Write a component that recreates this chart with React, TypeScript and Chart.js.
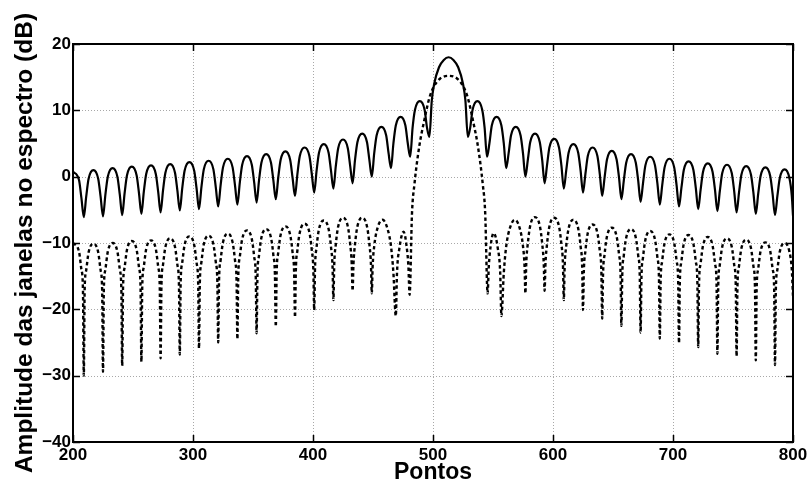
import React, { useEffect, useRef } from "react";
import { Chart, registerables } from "chart.js";

Chart.register(...registerables);

// Tick values of both axes
const xTicks = [200, 300, 400, 500, 600, 700, 800];
const yTicks = [-40, -30, -20, -10, 0, 10, 20];

// Rectangular window spectrum (dB) – side lobes left of the main lobe
const solidLeft: [number, number][] = [
  [200, 0.75], [205, -0.5], [207, -3.2], [209, -6.1],
  [211, -3.0], [213, -0.3], [217, 1.0], [221, -0.3], [223, -3.0], [225, -6.0],
  [227, -2.7], [229, 0.0], [233, 1.3], [237, 0.0], [239, -2.7], [241, -5.8],
  [243, -2.5], [245, 0.2], [249, 1.5], [253, 0.2], [255, -2.5], [257, -5.6],
  [259, -2.3], [261, 0.4], [265, 1.7], [269, 0.4], [271, -2.3], [273, -5.4],
  [275, -2.1], [277, 0.6], [281, 1.9], [285, 0.6], [287, -2.1], [289, -5.1],
  [291, -1.8], [293, 0.9], [297, 2.2], [301, 0.9], [303, -1.8], [305, -4.9],
  [307, -1.6], [309, 1.1], [313, 2.4], [317, 1.1], [319, -1.6], [321, -4.5],
  [323, -1.3], [325, 1.4], [329, 2.7], [333, 1.4], [335, -1.3], [337, -4.2],
  [339, -0.9], [341, 1.8], [345, 3.1], [349, 1.8], [351, -0.9], [353, -3.9],
  [355, -0.6], [357, 2.1], [361, 3.4], [365, 2.1], [367, -0.6], [369, -3.4],
  [371, -0.2], [373, 2.5], [377, 3.8], [381, 2.5], [383, -0.2], [385, -2.9],
  [387, 0.4], [389, 3.1], [393, 4.4], [397, 3.1], [399, 0.4], [401, -2.4],
  [403, 0.9], [405, 3.6], [409, 4.9], [413, 3.6], [415, 0.9], [417, -1.8],
  [419, 1.6], [421, 4.3], [425, 5.6], [429, 4.3], [431, 1.6], [433, -1.0],
  [435, 2.5], [437, 5.2], [441, 6.5], [445, 5.2], [447, 2.5], [449, 0.0],
  [451, 3.5], [453, 6.2], [457, 7.5], [461, 6.2], [463, 3.5], [465, 1.3],
  [467, 5.0], [469, 7.7], [473, 9.0], [477, 7.7], [479, 5.0], [481, 3.0],
  [483, 7.4], [485, 10.1], [489, 11.4], [493, 10.1], [495, 7.4], [497, 6.0],
];

// Rectangular window – main lobe
const solidMain: [number, number][] = [
  [499, 11.5], [501, 14.0], [505, 16.5], [509, 17.6], [513, 18.0],
  [517, 17.6], [521, 16.5], [525, 14.0], [527, 11.5], [529, 6.0],
];

// Rectangular window – side lobes right of the main lobe
const solidRight: [number, number][] = [
  [531, 7.4], [533, 10.1], [537, 11.4], [541, 10.1], [543, 7.4], [545, 3.0],
  [547, 5.0], [549, 7.7], [553, 9.0], [557, 7.7], [559, 5.0], [561, 1.3],
  [563, 3.5], [565, 6.2], [569, 7.5], [573, 6.2], [575, 3.5], [577, 0.0],
  [579, 2.5], [581, 5.2], [585, 6.5], [589, 5.2], [591, 2.5], [593, -1.0],
  [595, 1.7], [597, 4.4], [601, 5.7], [605, 4.4], [607, 1.7], [609, -1.8],
  [611, 0.9], [613, 3.6], [617, 4.9], [621, 3.6], [623, 0.9], [625, -2.4],
  [627, 0.4], [629, 3.1], [633, 4.4], [637, 3.1], [639, 0.4], [641, -2.9],
  [643, -0.1], [645, 2.6], [649, 3.9], [653, 2.6], [655, -0.1], [657, -3.4],
  [659, -0.6], [661, 2.1], [665, 3.4], [669, 2.1], [671, -0.6], [673, -3.8],
  [675, -1.0], [677, 1.7], [681, 3.0], [685, 1.7], [687, -1.0], [689, -4.2],
  [691, -1.3], [693, 1.4], [697, 2.7], [701, 1.4], [703, -1.3], [705, -4.5],
  [707, -1.7], [709, 1.0], [713, 2.3], [717, 1.0], [719, -1.7], [721, -4.9],
  [723, -2.0], [725, 0.7], [729, 2.0], [733, 0.7], [735, -2.0], [737, -5.2],
  [739, -2.2], [741, 0.5], [745, 1.8], [749, 0.5], [751, -2.2], [753, -5.4],
  [755, -2.4], [757, 0.3], [761, 1.6], [765, 0.3], [767, -2.4], [769, -5.6],
  [771, -2.6], [773, 0.1], [777, 1.4], [781, 0.1], [783, -2.6], [785, -5.8],
  [787, -2.9], [789, -0.2], [793, 1.1], [797, -0.2], [799, -2.9], [800, -5.9],
];

// Tapered window spectrum (dB) – side lobes left of the main lobe
const dottedLeft: [number, number][] = [
  [200, -10.0], [205, -11.3], [207, -14.0], [208.3, -17.0], [209, -30.0],
  [209.7, -17.1], [211, -14.1], [213, -11.4], [217, -10.1], [221, -11.4], [223, -14.1], [224.3, -17.1], [225, -29.4],
  [225.7, -17.0], [227, -14.0], [229, -11.3], [233, -10.0], [237, -11.3], [239, -14.0], [240.3, -17.0], [241, -28.5],
  [241.7, -16.7], [243, -13.7], [245, -11.0], [249, -9.7], [253, -11.0], [255, -13.7], [256.3, -16.7], [257, -27.9],
  [257.7, -16.6], [259, -13.6], [261, -10.9], [265, -9.6], [269, -10.9], [271, -13.6], [272.3, -16.6], [273, -27.4],
  [273.7, -16.3], [275, -13.3], [277, -10.6], [281, -9.3], [285, -10.6], [287, -13.3], [288.3, -16.3], [289, -26.8],
  [289.7, -16.0], [291, -13.0], [293, -10.3], [297, -9.0], [301, -10.3], [303, -13.0], [304.3, -16.0], [305, -25.9],
  [305.7, -15.9], [307, -12.9], [309, -10.2], [313, -8.9], [317, -10.2], [319, -12.9], [320.3, -15.9], [321, -25.0],
  [321.7, -15.6], [323, -12.6], [325, -9.9], [329, -8.6], [333, -9.9], [335, -12.6], [336.3, -15.6], [337, -24.5],
  [337.7, -15.1], [339, -12.1], [341, -9.4], [345, -8.1], [349, -9.4], [351, -12.1], [352.3, -15.1], [353, -23.6],
  [353.7, -14.9], [355, -11.9], [357, -9.2], [361, -7.9], [365, -9.2], [367, -11.9], [368.3, -14.9], [369, -22.6],
  [369.7, -14.5], [371, -11.5], [373, -8.8], [377, -7.5], [381, -8.8], [383, -11.5], [384.3, -14.5], [385, -21.2],
  [385.7, -14.1], [387, -11.1], [389, -8.4], [393, -7.1], [397, -8.4], [399, -11.1], [400.3, -14.1], [401, -20.1],
  [401.7, -13.6], [403, -10.6], [405, -7.9], [409, -6.6], [413, -7.9], [415, -10.6], [416.3, -13.6], [417, -18.6],
  [417.7, -13.2], [419, -10.2], [421, -7.5], [425, -6.2], [429, -7.5], [431, -10.2], [432.3, -13.2], [433, -17.2],
  [433.7, -13.2], [435, -10.2], [437, -7.5], [441, -6.2], [445, -7.5], [447, -10.2], [448.3, -13.2], [449, -17.6],
  [449.7, -13.5], [451, -10.5], [454, -7.6], [458, -6.5], [462, -7.8], [465, -10.5], [467, -14.5], [469, -21.0],
  [470, -14.5], [472, -10.8], [475.5, -8.3], [478, -10.5], [479.5, -13.5], [480.5, -17.8],
];

// Tapered window – main lobe
const dottedMain: [number, number][] = [
  [482.5, -5.5], [484.5, -1.2], [488.5, 4.5], [492.5, 8.3], [497, 11.9], [500.5, 13.5],
  [506, 14.8], [513, 15.2], [520, 14.8], [525.5, 13.5], [529, 11.9], [533.5, 8.3],
  [537.5, 4.5], [541.5, -1.2], [543.5, -5.5], [545.5, -17.6],
];

// Tapered window – side lobes right of the main lobe
const dottedRight: [number, number][] = [
  [546.5, -13.5], [548, -10.5], [550.5, -8.5], [554, -10.8], [556, -14.5], [557, -21.0],
  [559, -14.5], [561, -10.5], [564, -7.8], [568, -6.5], [572, -7.6], [575, -10.5], [576.3, -13.5], [577, -17.6],
  [577.7, -13.1], [579, -10.1], [581, -7.4], [585, -6.1], [589, -7.4], [591, -10.1], [592.3, -13.1], [593, -17.2],
  [593.7, -13.2], [595, -10.2], [597, -7.5], [601, -6.2], [605, -7.5], [607, -10.2], [608.3, -13.2], [609, -18.6],
  [609.7, -13.5], [611, -10.5], [613, -7.8], [617, -6.5], [621, -7.8], [623, -10.5], [624.3, -13.5], [625, -20.1],
  [625.7, -14.2], [627, -11.2], [629, -8.5], [633, -7.2], [637, -8.5], [639, -11.2], [640.3, -14.2], [641, -21.4],
  [641.7, -14.7], [643, -11.7], [645, -9.0], [649, -7.7], [653, -9.0], [655, -11.7], [656.3, -14.7], [657, -22.5],
  [657.7, -14.9], [659, -11.9], [661, -9.2], [665, -7.9], [669, -9.2], [671, -11.9], [672.3, -14.9], [673, -23.5],
  [673.7, -15.2], [675, -12.2], [677, -9.5], [681, -8.2], [685, -9.5], [687, -12.2], [688.3, -15.2], [689, -24.4],
  [689.7, -15.7], [691, -12.7], [693, -10.0], [697, -8.7], [701, -10.0], [703, -12.7], [704.3, -15.7], [705, -25.1],
  [705.7, -15.8], [707, -12.8], [709, -10.1], [713, -8.8], [717, -10.1], [719, -12.8], [720.3, -15.8], [721, -25.7],
  [721.7, -16.1], [723, -13.1], [725, -10.4], [729, -9.1], [733, -10.4], [735, -13.1], [736.3, -16.1], [737, -26.7],
  [737.7, -16.3], [739, -13.3], [741, -10.6], [745, -9.3], [749, -10.6], [751, -13.3], [752.3, -16.3], [753, -27.1],
  [753.7, -16.5], [755, -13.5], [757, -10.8], [761, -9.5], [765, -10.8], [767, -13.5], [768.3, -16.5], [769, -27.7],
  [769.7, -16.9], [771, -13.9], [773, -11.2], [777, -9.9], [781, -11.2], [783, -13.9], [784.3, -16.9], [785, -28.4],
  [785.7, -17.0], [787, -14.0], [789, -11.3], [793, -10.0], [797, -11.3], [799, -14.0], [800, -18.0],
];

const xTitle = "Pontos";
const yTitle = "Amplitude das janelas no espectro (dB)";

const FONT = "'Liberation Sans', Arial, Helvetica, sans-serif";

const toPoints = (parts: [number, number][][]) =>
  parts.flat().map(([x, y]) => ({ x, y }));

// Dotted grid under the curves, black box with inward ticks on top
const axesBox = {
  id: "axesBox",
  beforeDatasetsDraw(chart: any) {
    const { ctx, chartArea, scales } = chart;
    const { left, right, top, bottom } = chartArea;
    ctx.save();
    ctx.strokeStyle = "#a8a8a8";
    ctx.lineWidth = 1;
    ctx.setLineDash([1, 2]);
    for (const v of xTicks) {
      const px = Math.round(scales.x.getPixelForValue(v)) + 0.5;
      ctx.beginPath();
      ctx.moveTo(px, top);
      ctx.lineTo(px, bottom);
      ctx.stroke();
    }
    for (const v of yTicks) {
      const py = Math.round(scales.y.getPixelForValue(v)) + 0.5;
      ctx.beginPath();
      ctx.moveTo(left, py);
      ctx.lineTo(right, py);
      ctx.stroke();
    }
    ctx.restore();
  },
  afterDatasetsDraw(chart: any) {
    const { ctx, chartArea, scales } = chart;
    const { left, right, top, bottom } = chartArea;
    const len = 7;
    ctx.save();
    ctx.strokeStyle = "#000";
    ctx.setLineDash([]);
    ctx.lineWidth = 1.5;
    for (const v of xTicks) {
      const px = Math.round(scales.x.getPixelForValue(v)) + 0.5;
      ctx.beginPath();
      ctx.moveTo(px, bottom);
      ctx.lineTo(px, bottom - len);
      ctx.moveTo(px, top);
      ctx.lineTo(px, top + len);
      ctx.stroke();
    }
    for (const v of yTicks) {
      const py = Math.round(scales.y.getPixelForValue(v)) + 0.5;
      ctx.beginPath();
      ctx.moveTo(left, py);
      ctx.lineTo(left + len, py);
      ctx.moveTo(right, py);
      ctx.lineTo(right - len, py);
      ctx.stroke();
    }
    ctx.lineWidth = 2;
    ctx.strokeRect(left, top, right - left, bottom - top);
    ctx.restore();
  },
};

export default function App() {
  const canvasRef = useRef<HTMLCanvasElement>(null);

  useEffect(() => {
    const canvas = canvasRef.current;
    if (!canvas) return;
    const tickFont = { family: FONT, size: 17, weight: "bold" as const };

    const chart = new Chart(canvas, {
      type: "line",
      data: {
        datasets: [
          {
            label: "Retangular",
            data: toPoints([solidLeft, solidMain, solidRight]),
            borderColor: "#000",
            borderWidth: 2.2,
            pointRadius: 0,
            cubicInterpolationMode: "monotone",
            fill: false,
          },
          {
            label: "Janela",
            data: toPoints([dottedLeft, dottedMain, dottedRight]),
            borderColor: "#000",
            borderWidth: 2.4,
            borderDash: [3.5, 2.8],
            pointRadius: 0,
            cubicInterpolationMode: "monotone",
            fill: false,
          },
        ],
      },
      options: {
        responsive: false,
        animation: false,
        devicePixelRatio: 1,
        layout: { padding: { left: 0, right: 18, top: 44, bottom: 0 } },
        plugins: {
          legend: { display: false },
          tooltip: { enabled: false },
        },
        scales: {
          x: {
            type: "linear",
            min: 200,
            max: 800,
            afterBuildTicks: (s: any) => {
              s.ticks = xTicks.map((value) => ({ value }));
            },
            afterFit: (s: any) => {
              s.height = 45;
              s.paddingLeft = 0;
              s.paddingRight = 0;
            },
            grid: { display: false, drawTicks: false },
            border: { display: false },
            ticks: {
              color: "#000",
              font: tickFont,
              padding: 3,
              maxRotation: 0,
              autoSkip: false,
              callback: (v: any) => String(v),
            },
            title: {
              display: true,
              text: xTitle,
              color: "#000",
              font: { family: FONT, size: 23, weight: "bold" },
              padding: { top: 0, bottom: 1 },
            },
          },
          y: {
            type: "linear",
            min: -40,
            max: 20,
            afterBuildTicks: (s: any) => {
              s.ticks = yTicks.map((value) => ({ value }));
            },
            afterFit: (s: any) => {
              s.width = 73;
              s.paddingTop = 0;
              s.paddingBottom = 0;
            },
            grid: { display: false, drawTicks: false },
            border: { display: false },
            ticks: {
              color: "#000",
              font: tickFont,
              padding: 2,
              autoSkip: false,
              callback: (v: any) => String(v).replace("-", "\u2212"),
            },
            title: {
              display: true,
              text: yTitle,
              color: "#000",
              font: { family: FONT, size: 24.5, weight: "bold" },
              padding: { top: 11, bottom: 0 },
            },
          },
        },
      },
      plugins: [axesBox],
    });

    return () => chart.destroy();
  }, []);

  return (
    <div
      style={{
        position: "fixed",
        left: 0,
        top: 0,
        width: 811,
        height: 487,
        background: "#fff",
      }}
    >
      <canvas
        ref={canvasRef}
        width={811}
        height={487}
        style={{ display: "block", width: 811, height: 487 }}
      />
    </div>
  );
}
